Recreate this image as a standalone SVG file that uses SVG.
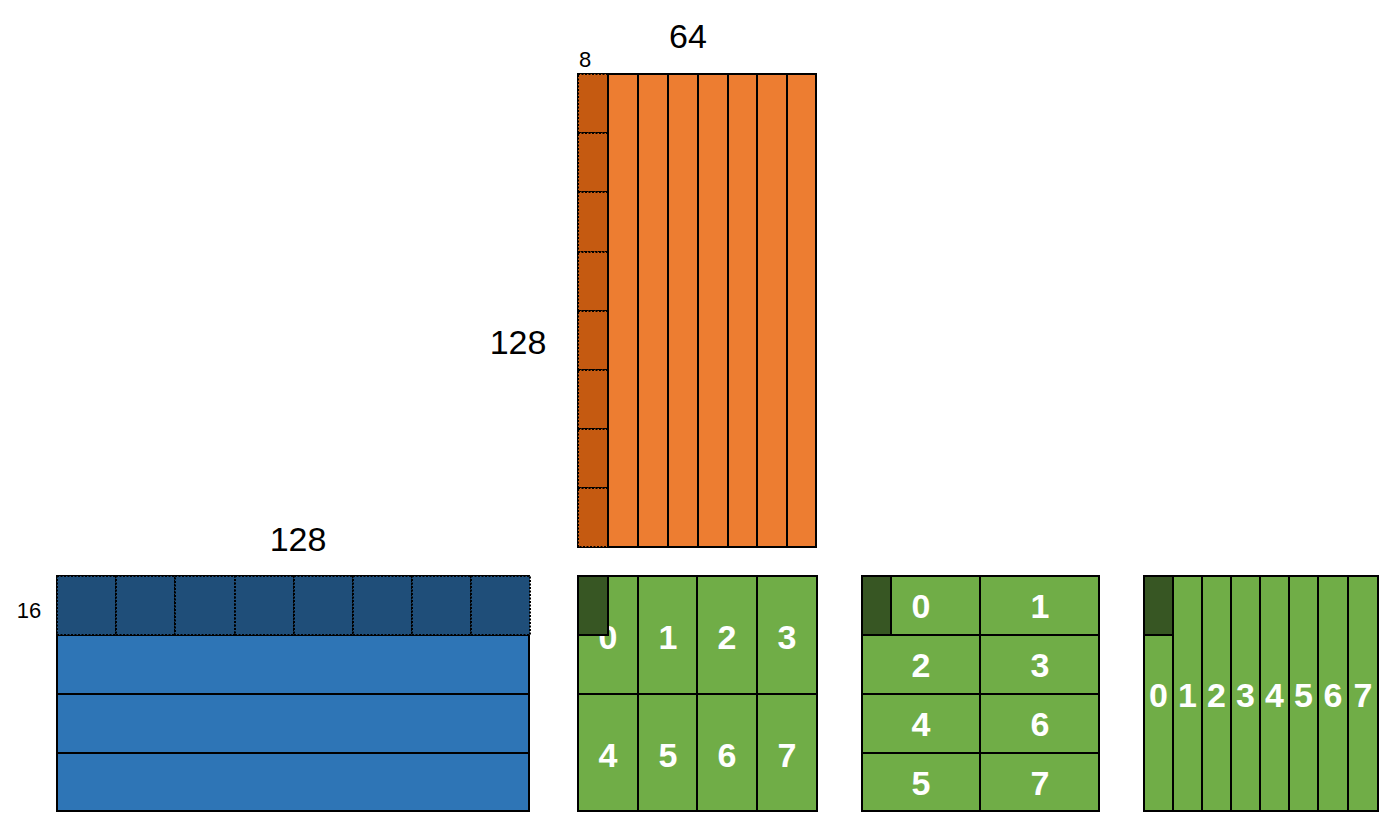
<svg xmlns="http://www.w3.org/2000/svg" width="1396" height="828" viewBox="0 0 1396 828">
<style>
.lbl{font-family:"Liberation Sans","Noto Sans",sans-serif;fill:#000;text-anchor:middle}
.num{font-family:"Liberation Sans",Arial,sans-serif;font-weight:bold;font-size:34px;fill:#fff;text-anchor:middle}
.s{stroke:#000;stroke-width:2}
.d{stroke:#000;stroke-width:2;stroke-dasharray:2 1.5}
.or{fill:#ED7D31}.dor{fill:#C55A11}
.bl{fill:#2E75B6}.dbl{fill:#1F4E79}
.gr{fill:#70AD47}.dgr{fill:#375623}
</style>
<rect width="1396" height="828" fill="#fff"/>
<g id="labels">
<text class="lbl" x="688" y="48" font-size="34">64</text>
<text class="lbl" x="585" y="67" font-size="22">8</text>
<text class="lbl" x="518" y="354" font-size="34">128</text>
<text class="lbl" x="298" y="551" font-size="34">128</text>
<text class="lbl" x="29" y="618" font-size="22">16</text>
</g>
<g id="orange">
<rect class="or s" x="578" y="74" width="238" height="473"/>
<g class="s" fill="none">
<line x1="638" y1="74" x2="638" y2="547"/>
<line x1="668" y1="74" x2="668" y2="547"/>
<line x1="698" y1="74" x2="698" y2="547"/>
<line x1="728" y1="74" x2="728" y2="547"/>
<line x1="757" y1="74" x2="757" y2="547"/>
<line x1="787" y1="74" x2="787" y2="547"/>
</g>
<g class="dor d">
<rect x="578" y="74" width="30" height="59"/>
<rect x="578" y="133" width="30" height="59"/>
<rect x="578" y="192" width="30" height="60"/>
<rect x="578" y="252" width="30" height="59"/>
<rect x="578" y="311" width="30" height="59"/>
<rect x="578" y="370" width="30" height="59"/>
<rect x="578" y="429" width="30" height="59"/>
<rect x="578" y="488" width="30" height="59"/>
</g>
<line class="s" x1="608" y1="74" x2="608" y2="547"/>
</g>
<g id="blue">
<rect class="bl s" x="57" y="576" width="472" height="235"/>
<g class="s">
<line x1="57" y1="694" x2="529" y2="694"/>
<line x1="57" y1="753" x2="529" y2="753"/>
</g>
<line class="s" x1="57" y1="635" x2="529" y2="635"/>
<g class="dbl d">
<rect x="57" y="576" width="59" height="59"/>
<rect x="116" y="576" width="59" height="59"/>
<rect x="175" y="576" width="60" height="59"/>
<rect x="235" y="576" width="59" height="59"/>
<rect x="294" y="576" width="59" height="59"/>
<rect x="353" y="576" width="59" height="59"/>
<rect x="412" y="576" width="59" height="59"/>
<rect x="471" y="576" width="59" height="59"/>
</g>
</g>
<g id="green1">
<rect class="gr s" x="578" y="576" width="239" height="235"/>
<g class="s">
<line x1="638" y1="576" x2="638" y2="811"/>
<line x1="697" y1="576" x2="697" y2="811"/>
<line x1="757" y1="576" x2="757" y2="811"/>
<line x1="578" y1="694" x2="817" y2="694"/>
</g>
<text class="num" x="608" y="649">0</text>
<text class="num" x="668" y="649">1</text>
<text class="num" x="727" y="649">2</text>
<text class="num" x="787" y="649">3</text>
<text class="num" x="608" y="767">4</text>
<text class="num" x="668" y="767">5</text>
<text class="num" x="727" y="767">6</text>
<text class="num" x="787" y="767">7</text>
<rect class="dgr s" x="578" y="576" width="30" height="59"/>
</g>
<g id="green2">
<rect class="gr s" x="862" y="576" width="237" height="235"/>
<g class="s">
<line x1="980" y1="576" x2="980" y2="811"/>
<line x1="862" y1="635" x2="1099" y2="635"/>
<line x1="862" y1="694" x2="1099" y2="694"/>
<line x1="862" y1="753" x2="1099" y2="753"/>
</g>
<rect class="dgr s" x="862" y="576" width="29" height="59"/>
<text class="num" x="921" y="618">0</text>
<text class="num" x="1040" y="618">1</text>
<text class="num" x="921" y="677">2</text>
<text class="num" x="1040" y="677">3</text>
<text class="num" x="921" y="736">4</text>
<text class="num" x="1040" y="736">6</text>
<text class="num" x="921" y="795">5</text>
<text class="num" x="1040" y="795">7</text>
</g>
<g id="green3">
<rect class="gr s" x="1144" y="576" width="234" height="235"/>
<g class="s">
<line x1="1173" y1="576" x2="1173" y2="811"/>
<line x1="1202" y1="576" x2="1202" y2="811"/>
<line x1="1231" y1="576" x2="1231" y2="811"/>
<line x1="1260" y1="576" x2="1260" y2="811"/>
<line x1="1289" y1="576" x2="1289" y2="811"/>
<line x1="1318" y1="576" x2="1318" y2="811"/>
<line x1="1348" y1="576" x2="1348" y2="811"/>
</g>
<rect class="dgr s" x="1144" y="576" width="29" height="59"/>
<text class="num" x="1158.5" y="707">0</text>
<text class="num" x="1187.5" y="707">1</text>
<text class="num" x="1216.5" y="707">2</text>
<text class="num" x="1245.5" y="707">3</text>
<text class="num" x="1274.5" y="707">4</text>
<text class="num" x="1303.5" y="707">5</text>
<text class="num" x="1333" y="707">6</text>
<text class="num" x="1363" y="707">7</text>
</g>
<g id="connectors"></g>
</svg>
